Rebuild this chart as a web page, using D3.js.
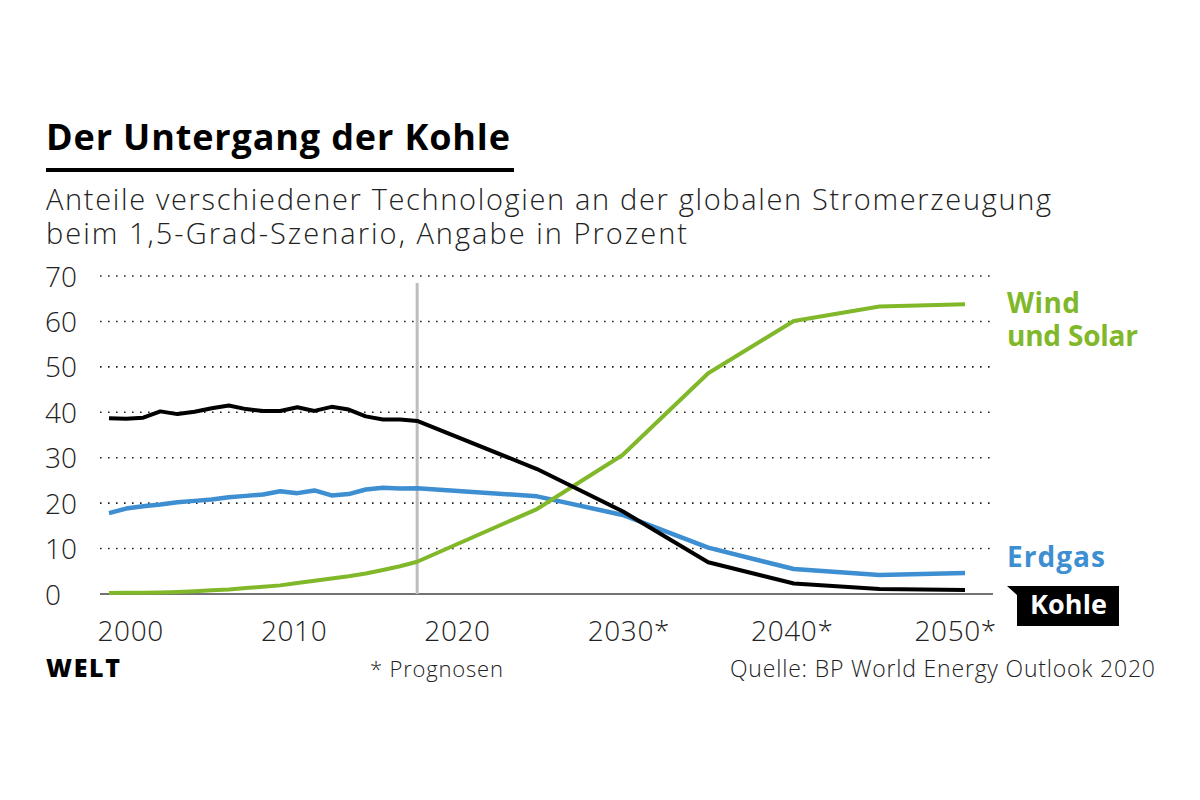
<!DOCTYPE html>
<html>
<head>
<meta charset="utf-8">
<script src="https://cdn.jsdelivr.net/npm/d3@7"></script>
<style>
  html, body { margin: 0; padding: 0; background: #fff; }
  svg { display: block; font-family: "Open Sans", Lato, sans-serif; }
</style>
</head>
<body>
<svg id="chart" width="1200" height="800"></svg>
<script>
// ---------- data ----------
const histYears = [2000,2001,2002,2003,2004,2005,2006,2007,2008,2009,2010,2011,2012,2013,2014,2015,2016,2017,2018];
const projYears = [2025,2030,2035,2040,2045,2050];

const kohleHist = [38.7,38.6,38.8,40.2,39.6,40.1,40.9,41.5,40.7,40.3,40.3,41.1,40.3,41.2,40.6,39.1,38.4,38.4,38.1];
const kohleProj = [27.5,18.2,7.0,2.3,1.1,0.9];

const erdgasHist = [17.8,18.8,19.3,19.7,20.2,20.5,20.8,21.3,21.6,21.9,22.6,22.2,22.8,21.7,22.0,23.0,23.4,23.2,23.3];
const erdgasProj = [21.5,17.4,10.2,5.5,4.2,4.6];

const windSolarHist = [0.2,0.25,0.3,0.35,0.45,0.6,0.8,1.0,1.3,1.6,1.9,2.4,2.9,3.4,3.9,4.5,5.3,6.1,7.1];
const windSolarProj = [18.7,30.6,48.6,60.1,63.3,63.8];

const yTicks = [0,10,20,30,40,50,60,70];
const xTickYears = [2000,2010,2020,2030,2040,2050];
const xTickLabels = ["2000","2010","2020","2030*","2040*","2050*"];
const lastHistYear = 2018;

const colors = { kohle: "#000000", erdgas: "#3d8fd1", wind: "#80b82a" };

// ---------- build ----------
const svg = d3.select("#chart");
const years = histYears.concat(projYears);
const series = [
  { key: "erdgas", values: erdgasHist.concat(erdgasProj), color: colors.erdgas, width: 4.5 },
  { key: "wind",   values: windSolarHist.concat(windSolarProj), color: colors.wind, width: 4 },
  { key: "kohle",  values: kohleHist.concat(kohleProj), color: colors.kohle, width: 4 }
];

const x = d3.scaleLinear().domain([2000, 2050]).range([109, 965]);
const y = d3.scaleLinear().domain([0, 70]).range([594, 276]);
const xLabel = d3.scaleLinear().domain([2000, 2050]).range([97, 914]);
const gridLeft = 100, gridRight = 993;

function txt(xp, yp, s, size, weight, fill, width, anchor) {
  const t = svg.append("text").attr("x", xp).attr("y", yp)
    .attr("font-size", size).attr("font-weight", weight).attr("fill", fill)
    .attr("text-anchor", anchor || "start").text(s);
  if (width) t.attr("textLength", width).attr("lengthAdjust", "spacing");
  return t;
}
// multi-line text as one element with tspans
function mtxt(xp, yp, lines, widths, lh, size, weight, fill) {
  const t = svg.append("text").attr("x", xp).attr("y", yp)
    .attr("font-size", size).attr("font-weight", weight).attr("fill", fill);
  lines.forEach((s, i) => {
    const ts = t.append("tspan").attr("x", xp).attr("y", yp + i * lh).text(s);
    if (widths[i]) ts.attr("textLength", widths[i]).attr("lengthAdjust", "spacing");
  });
  return t;
}

// Title
txt(46, 150, "Der Untergang der Kohle", 36, 700, "#000", 464);
svg.append("rect").attr("x", 46).attr("y", 168).attr("width", 468).attr("height", 4).attr("fill", "#000");

// Subtitle
mtxt(46, 210, ["Anteile verschiedener Technologien an der globalen Stromerzeugung",
               "beim 1,5-Grad-Szenario, Angabe in Prozent"], [1005, 641], 34, 29, 300, "#222");

// Grid lines
svg.append("g").selectAll("line").data(yTicks.filter(d => d > 0)).join("line")
  .attr("x1", gridLeft).attr("x2", gridRight)
  .attr("y1", d => y(d)).attr("y2", d => y(d))
  .attr("stroke", "#222").attr("stroke-width", 1.6)
  .attr("stroke-dasharray", "1.6,6.4").attr("stroke-linecap", "butt");

// Y axis labels
const yAxis = d3.axisLeft(y).tickValues(yTicks).tickSize(0).tickPadding(0).tickFormat(d3.format("d"));
const gy = svg.append("g").attr("transform", "translate(45,0)").call(yAxis);
gy.select(".domain").remove();
gy.selectAll("text").attr("text-anchor", "start").attr("x", 0).attr("dy", "0.36em")
  .attr("font-size", 28).attr("font-weight", 300).attr("fill", "#222").attr("font-family", "'Open Sans', sans-serif");

// Baseline
svg.append("line").attr("x1", gridLeft).attr("x2", gridRight)
  .attr("y1", y(0)).attr("y2", y(0)).attr("stroke", "#444").attr("stroke-width", 1.6);

// Vertical separator line (last historical year)
svg.append("line").attr("x1", x(lastHistYear)).attr("x2", x(lastHistYear))
  .attr("y1", 283).attr("y2", y(0)).attr("stroke", "#bdbdbd").attr("stroke-width", 3);

// X axis labels
const xAxis = d3.axisBottom(xLabel).tickValues(xTickYears).tickSize(0).tickPadding(0)
  .tickFormat((d, i) => xTickLabels[i]);
const gx = svg.append("g").attr("transform", "translate(0,641)").call(xAxis);
gx.select(".domain").remove();
gx.selectAll("text").attr("text-anchor", "start").attr("dy", 0)
  .attr("font-size", 28).attr("font-weight", 300).attr("fill", "#222")
  .attr("letter-spacing", 0.6).attr("font-family", "'Open Sans', sans-serif");

// Lines
const line = d3.line().x((d, i) => x(years[i])).y(d => y(d));
svg.append("g").selectAll("path").data(series).join("path")
  .attr("d", d => line(d.values))
  .attr("fill", "none").attr("stroke", d => d.color).attr("stroke-width", d => d.width)
  .attr("stroke-linejoin", "round").attr("stroke-linecap", "butt");

// Series labels
svg.append("path").attr("d", "M1007,586 L1119,586 L1119,626 L1017,626 L1017,595 Z").attr("fill", "#000");
mtxt(1007, 313, ["Wind", "und Solar"], [73, 131], 33, 28, 700, colors.wind);
txt(1007, 567, "Erdgas", 28, 700, colors.erdgas, 98);
txt(1030, 614, "Kohle", 27, 700, "#fff", 77);

// Footer
txt(46, 677, "WELT", 25, 800, "#000", 74);
txt(370, 677, "* Prognosen", 22, 300, "#222", 133);
txt(730, 677, "Quelle: BP World Energy Outlook 2020", 23, 300, "#222", 425);
</script>
</body>
</html>
